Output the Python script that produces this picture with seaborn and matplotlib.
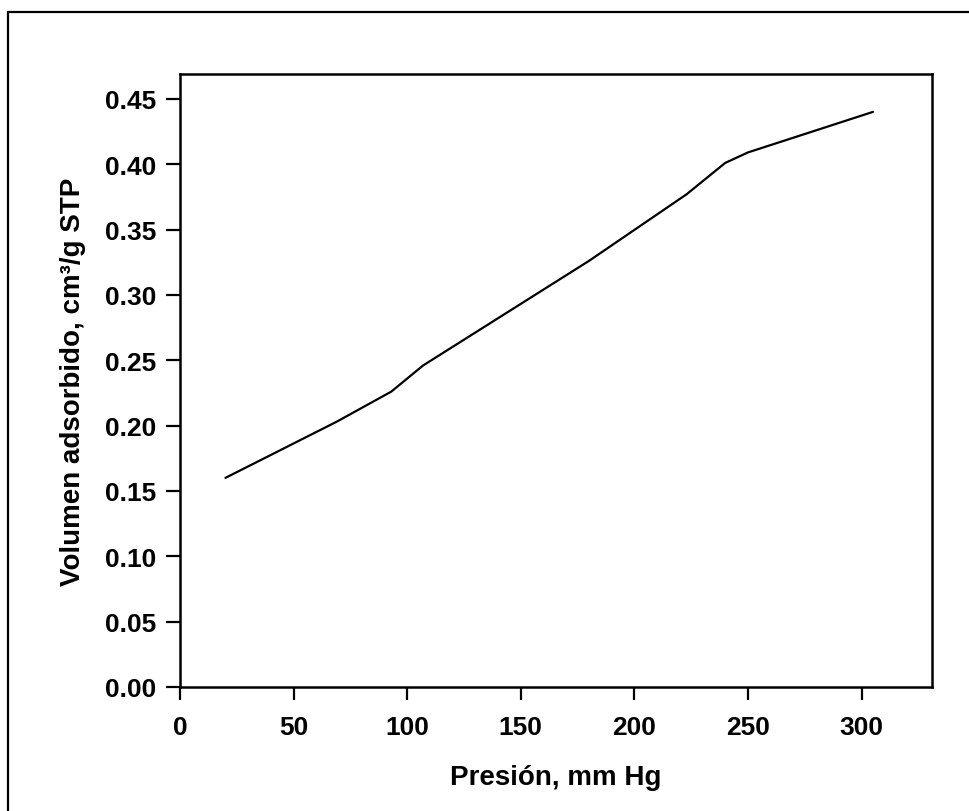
import matplotlib
matplotlib.use("Agg")
import matplotlib.pyplot as plt
import seaborn as sns
import pandas as pd
from matplotlib.patches import Rectangle

# Data
presion = [20, 69, 93, 107, 180, 223, 240, 250, 305]
volumen = [0.160, 0.203, 0.226, 0.246, 0.326, 0.377, 0.401, 0.409, 0.440]
x_ticks = [0, 50, 100, 150, 200, 250, 300]
y_ticks = [0.00, 0.05, 0.10, 0.15, 0.20, 0.25, 0.30, 0.35, 0.40, 0.45]
x_label = "Presión, mm Hg"
y_label = "Volumen adsorbido, cm³/g STP"

sns.set_theme(style="ticks")
plt.rcParams['font.family'] = ['Liberation Sans', 'DejaVu Sans']
plt.rcParams['font.weight'] = 'bold'

df = pd.DataFrame({"x": presion, "y": volumen})

fig = plt.figure(figsize=(9.7, 8.12), dpi=100)
ax = fig.add_axes([180/970, (812-688)/812, (932-180)/970, (688-75)/812])

sns.lineplot(data=df, x="x", y="y", ax=ax, color="black", linewidth=1.6, sort=False)

ax.set_xlim(0, 331)
ax.set_ylim(0, 0.469)
ax.set_xticks(x_ticks)
ax.set_yticks(y_ticks)
ax.set_xticklabels([str(t) for t in x_ticks], fontsize=19, fontweight='bold')
ax.set_yticklabels([f"{t:.2f}" for t in y_ticks], fontsize=19, fontweight='bold')
ax.tick_params(axis='y', length=10, width=1.6, pad=7, colors='black')
ax.tick_params(axis='x', length=9, width=1.6, pad=11, colors='black')
for s in ax.spines.values():
    s.set_linewidth(1.8)
    s.set_color('black')

ax.set_xlabel(x_label, fontsize=20, fontweight='bold', labelpad=18, color='black')
ax.set_ylabel(y_label, fontsize=20, fontweight='bold', labelpad=14, color='black')

# outer figure frame (extends past right and bottom edges)
fig.patches.append(Rectangle((8/970, -0.1), 1.2, (812-13)/812 + 0.1,
                             transform=fig.transFigure, fill=False,
                             edgecolor='black', linewidth=1.6, clip_on=False))

fig.savefig("out.png", dpi=100, facecolor='white')
